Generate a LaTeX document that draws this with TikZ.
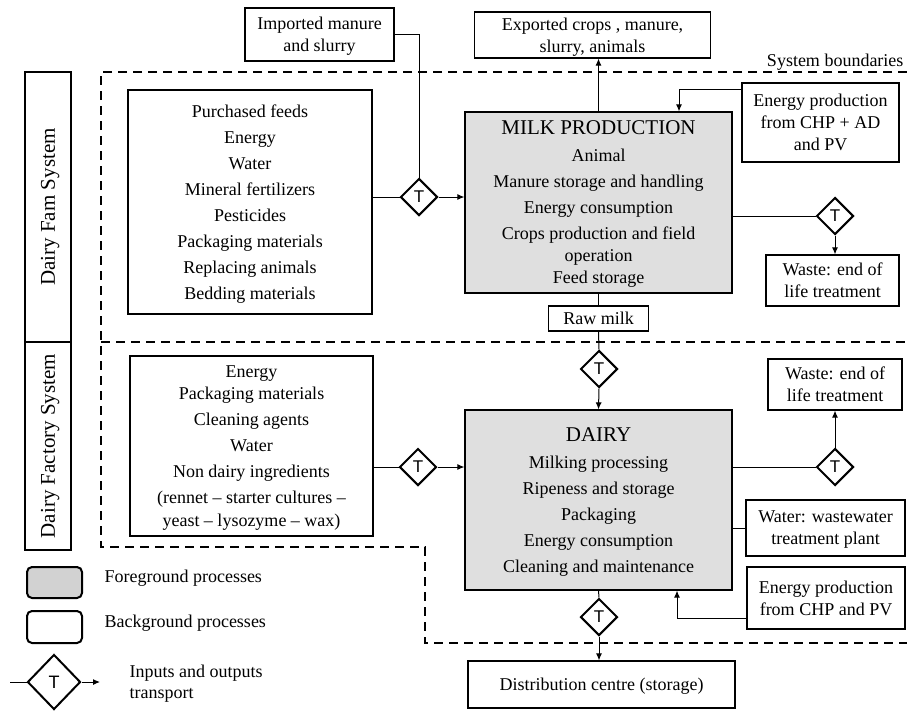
\documentclass[tikz,border=0pt]{standalone}
\usepackage{fontspec}
\setmainfont{Liberation Serif}
\setsansfont{Liberation Sans}
\usepackage{tikz}
\usetikzlibrary{arrows.meta,shapes.geometric}

\begin{document}
\begin{tikzpicture}[x=1pt, y=-1pt,
    box/.style={draw, line width=1.2pt, align=center, inner sep=0pt, text depth=0pt, font=\fontsize{18}{22}\selectfont},
    listbox/.style={box, font=\fontsize{18}{26}\selectfont},
    fgbox/.style={listbox, fill=gray!25},
    tbox/.style={draw, diamond, fill=white, line width=2pt, inner sep=0pt, minimum width=37pt, minimum height=37pt, font=\sffamily\fontsize{17}{17}\selectfont},
    link/.style={line width=1pt},
    arr/.style={link, -{Latex[length=7pt, width=6pt]}},
    bound/.style={line width=1.8pt, dash pattern=on 9pt off 6pt}]
  \useasboundingbox (0,0) rectangle (907,710);

  % system boundaries
  \draw[bound] (907,72) -- (101,72) -- (101,547) -- (425,547) -- (425,643) -- (907,643);
  \draw[bound] (101,342) -- (907,342);
  \node[anchor=base east, font=\fontsize{18}{22}\selectfont] (sb) at (907,66) {System boundaries};

  % side labels
  \node[box, rotate=90, minimum width=270pt, minimum height=46pt, font=\fontsize{21}{24}\selectfont] (fam) at (48,207) {Dairy Fam System};
  \node[box, rotate=90, minimum width=208pt, minimum height=46pt, font=\fontsize{21}{24}\selectfont] (fac) at (48,446) {Dairy Factory System};

  % farm
  \node[listbox, minimum width=244pt, minimum height=224pt] (purch) at (250,202)
    {Purchased feeds\\ Energy\\ Water\\ Mineral fertilizers\\ Pesticides\\ Packaging materials\\ Replacing animals\\ Bedding materials};
  \node[box, minimum width=149pt, minimum height=53pt] (imp) at (319.5,34.5) {Imported manure\\ and slurry};
  \node[box, minimum width=236pt, minimum height=46pt] (exp) at (592.5,35) {Exported crops , manure,\\ slurry, animals};
  \node[fgbox, minimum width=267pt, minimum height=181pt] (milk) at (598.5,202.5)
    {{\fontsize{21}{26}\selectfont MILK PRODUCTION}\\[1pt] Animal\\ Manure storage and handling\\ Energy consumption\\ Crops production and field\\[-4pt] operation\\[-4pt] Feed storage};
  \node[box, minimum width=157pt, minimum height=79pt] (ener1) at (820.5,122.5) {Energy production\\ from CHP + AD\\ and PV};
  \node[box, minimum width=133pt, minimum height=51pt] (waste1) at (832.5,280.5) {Waste: end of\\ life treatment};
  \node[box, minimum width=100pt, minimum height=25pt] (raw) at (598.5,318.5) {Raw milk};
  \node[tbox] (t1) at (419,197) {T};
  \node[tbox] (t2) at (835,216) {T};
  \node[tbox] (t3) at (599,369) {T};

  % factory
  \node[listbox, minimum width=243pt, minimum height=180pt] (inp) at (251.5,446)
    {Energy\\[-4pt] Packaging materials\\ Cleaning agents\\ Water\\ Non dairy ingredients\\ (rennet -- starter cultures --\\[-3pt] yeast -- lysozyme -- wax)};
  \node[fgbox, minimum width=267pt, minimum height=180pt] (dairy) at (598.5,500)
    {{\fontsize{21}{26}\selectfont DAIRY}\\[1pt] Milking processing\\ Ripeness and storage\\ Packaging\\ Energy consumption\\ Cleaning and maintenance};
  \node[box, minimum width=134pt, minimum height=51pt] (waste2) at (835,384.5) {Waste: end of\\ life treatment};
  \node[box, minimum width=159pt, minimum height=56pt] (water) at (825.5,528) {Water: wastewater\\ treatment plant};
  \node[box, minimum width=158pt, minimum height=62pt] (ener2) at (826,598) {Energy production\\ from CHP and PV};
  \node[box, minimum width=267pt, minimum height=47pt] (dist) at (601.5,684.5) {Distribution centre (storage)};
  \node[tbox] (t4) at (418,467) {T};
  \node[tbox] (t5) at (835,467) {T};
  \node[tbox] (t6) at (599,617) {T};

  % flows
  \draw[link] (t1 -| purch.east) -- (t1.west);
  \draw[link] (imp.east) -| (t1.north);
  \draw[arr] (t1.east) -- (t1 -| milk.west);
  \draw[arr] (milk.north) -- (milk.north |- exp.south);
  \draw[arr] ([yshift=-7pt]ener1.north west) -| ([xshift=80.5pt]milk.north);
  \draw[link] (t2 -| milk.east) -- (t2.west);
  \draw[arr] (t2.south) -- (t2.south |- waste1.north);
  \draw[link] (milk.south) -- (raw.north);
  \draw[link] (raw.south) -- (t3.north);
  \draw[arr] (t3.south) -- (dairy.north);
  \draw[link] (t4 -| inp.east) -- (t4.west);
  \draw[arr] (t4.east) -- (t4 -| dairy.west);
  \draw[link] (t5 -| dairy.east) -- (t5.west);
  \draw[arr] (t5.north) -- (t5.north |- waste2.south);
  \draw[link] (water.west) -- (water.west -| dairy.east);
  \draw[arr] ([yshift=-20pt]ener2.west) -| ([xshift=78.5pt]dairy.south);
  \draw[link] (dairy.south) -- (t6.north);
  \draw[arr] (t6.south) -- (t6.south |- dist.north);

  % legend
  \node[draw, fill=gray!35, rounded corners=5pt, line width=2pt, minimum width=55pt, minimum height=31pt] (lfg) at (54.5,582.5) {};
  \node[anchor=west, font=\fontsize{18}{22}\selectfont] (lfgt) at (101,578) {Foreground processes};
  \node[draw, rounded corners=5pt, line width=2pt, minimum width=55pt, minimum height=32pt] (lbg) at (54.5,627) {};
  \node[anchor=west, font=\fontsize{18}{22}\selectfont] (lbgt) at (101,623) {Background processes};
  \node[tbox, minimum width=53pt, minimum height=55pt, font=\sffamily\fontsize{18}{18}\selectfont] (lt) at (54,682) {T};
  \coordinate (lin) at (10,682);
  \coordinate (lout) at (100,682);
  \draw[link] (lin) -- (lt.west);
  \draw[arr] (lt.east) -- (lout);
  \node[anchor=west, align=left, font=\fontsize{18}{21}\selectfont] (ltt) at (126,684) {Inputs and outputs\\ transport};
\end{tikzpicture}
\end{document}
